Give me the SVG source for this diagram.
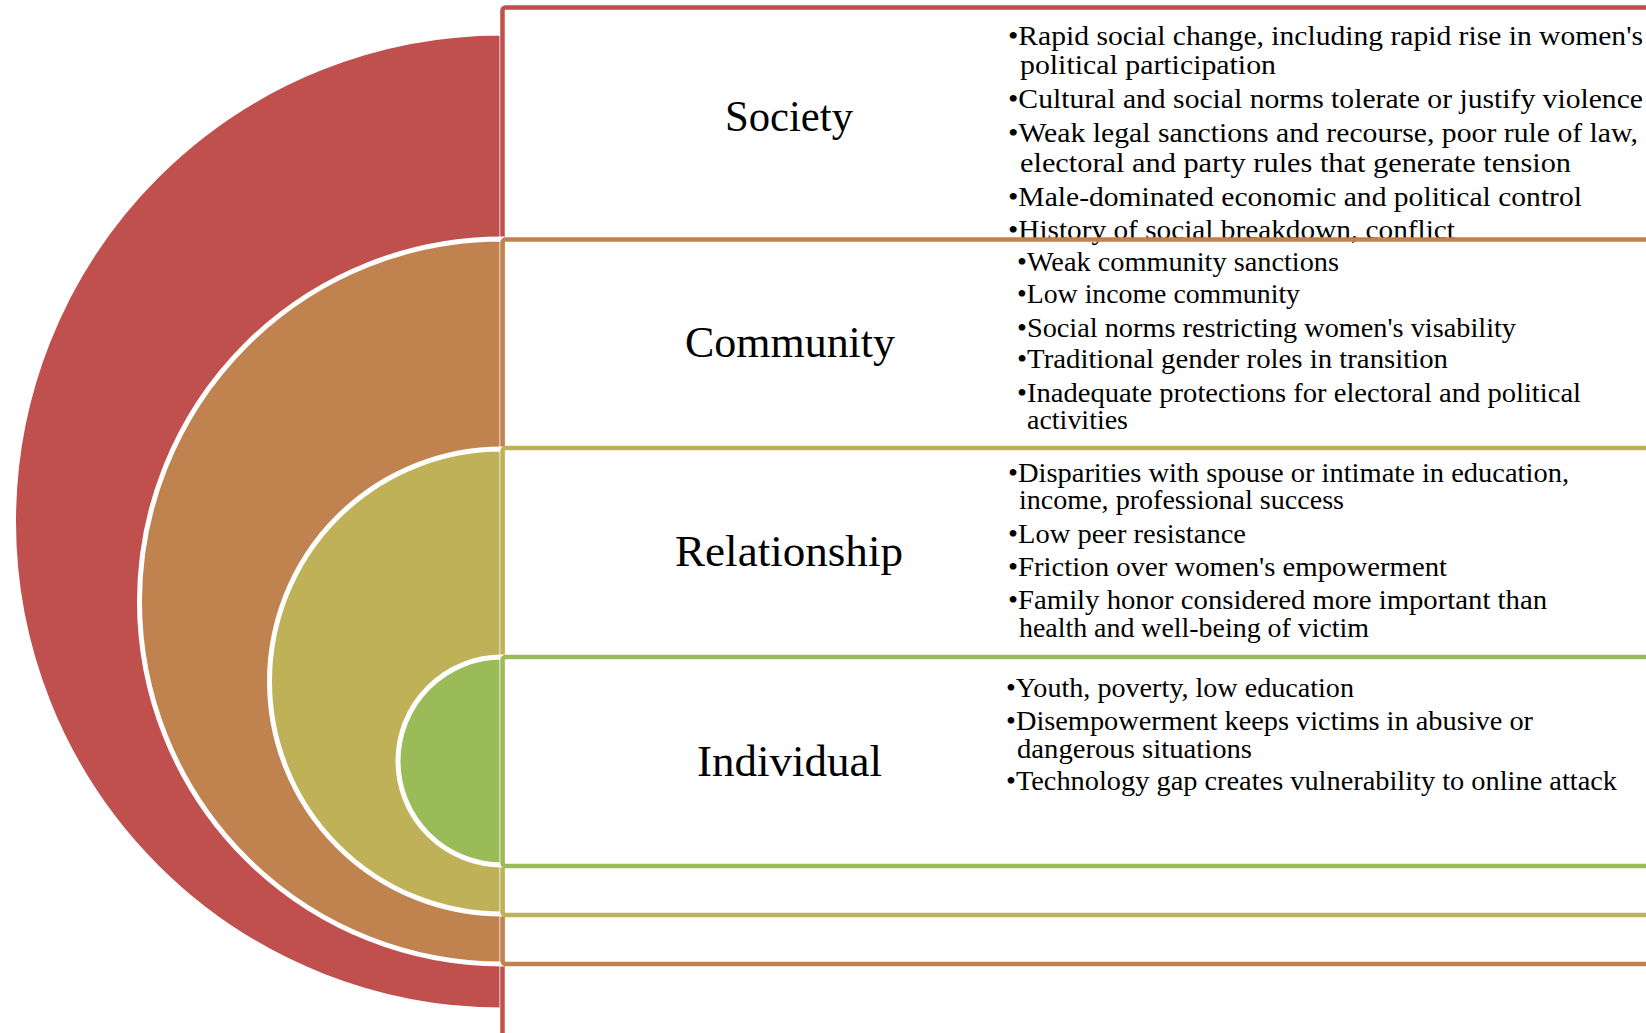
<svg xmlns="http://www.w3.org/2000/svg" width="1646" height="1033" viewBox="0 0 1646 1033">
  <style>
    .disc { stroke: #ffffff; stroke-width: 5; }
    .box { fill: none; stroke-width: 4.5; }
    .label { font-family: "Liberation Serif", "Times New Roman", serif; font-size: 44px; fill: #000000; text-anchor: middle; }
    .item { font-family: "Liberation Serif", "Times New Roman", serif; font-size: 27px; fill: #000000; }
    .red { fill: #C0504D; }
    .brown { fill: #C0834F; }
    .olive { fill: #BFB158; }
    .green { fill: #9BBB59; }
    .red-line { stroke: #C0504D; }
    .brown-line { stroke: #C0834F; }
    .olive-line { stroke: #BFB158; }
    .green-line { stroke: #9BBB59; }
  </style>

  <!-- Outer level: society -->
  <g id="society">
    <path class="disc red" stroke="none" d="M502,33 A488.5,488.5 0 0 0 502,1010 Z"/>
    <rect class="box red-line" x="502.5" y="7.5" width="1300" height="1200" rx="3"/>
    <text class="label" x="789" y="131" textLength="128" lengthAdjust="spacingAndGlyphs">Society</text>
    <text class="item" x="1008" y="45" textLength="635" lengthAdjust="spacingAndGlyphs">•Rapid social change, including rapid rise in women's</text>
    <text class="item" x="1020" y="74" textLength="256" lengthAdjust="spacingAndGlyphs">political participation</text>
    <text class="item" x="1008" y="108" textLength="635" lengthAdjust="spacingAndGlyphs">•Cultural and social norms tolerate or justify violence</text>
    <text class="item" x="1008" y="142" textLength="630" lengthAdjust="spacingAndGlyphs">•Weak legal sanctions and recourse, poor rule of law,</text>
    <text class="item" x="1020" y="172" textLength="551" lengthAdjust="spacingAndGlyphs">electoral and party rules that generate tension</text>
    <text class="item" x="1008" y="206" textLength="574" lengthAdjust="spacingAndGlyphs">•Male-dominated economic and political control</text>
    <text class="item" x="1008" y="239" textLength="447" lengthAdjust="spacingAndGlyphs">•History of social breakdown, conflict</text>
  </g>

  <!-- Second level: community -->
  <g id="community">
    <path class="disc brown" d="M502,239 A362.5,362.5 0 0 0 502,964 Z"/>
    <rect class="box brown-line" x="502.5" y="239.5" width="1300" height="724.5" rx="3"/>
    <text class="label" x="790" y="357" textLength="210" lengthAdjust="spacingAndGlyphs">Community</text>
    <text class="item" x="1017" y="271" textLength="322" lengthAdjust="spacingAndGlyphs">•Weak community sanctions</text>
    <text class="item" x="1017" y="303" textLength="283" lengthAdjust="spacingAndGlyphs">•Low income community</text>
    <text class="item" x="1017" y="337" textLength="499" lengthAdjust="spacingAndGlyphs">•Social norms restricting women's visability</text>
    <text class="item" x="1017" y="368" textLength="431" lengthAdjust="spacingAndGlyphs">•Traditional gender roles in transition</text>
    <text class="item" x="1017" y="402" textLength="564" lengthAdjust="spacingAndGlyphs">•Inadequate protections for electoral and political</text>
    <text class="item" x="1027" y="429" textLength="101" lengthAdjust="spacingAndGlyphs">activities</text>
  </g>

  <!-- Third level: relationship -->
  <g id="relationship">
    <path class="disc olive" d="M502,449 A232.5,232.5 0 0 0 502,914 Z"/>
    <rect class="box olive-line" x="502.5" y="448" width="1300" height="467" rx="3"/>
    <text class="label" x="789" y="566" textLength="228" lengthAdjust="spacingAndGlyphs">Relationship</text>
    <text class="item" x="1008" y="482" textLength="561" lengthAdjust="spacingAndGlyphs">•Disparities with spouse or intimate in education,</text>
    <text class="item" x="1019" y="509" textLength="325" lengthAdjust="spacingAndGlyphs">income, professional success</text>
    <text class="item" x="1008" y="543" textLength="238" lengthAdjust="spacingAndGlyphs">•Low peer resistance</text>
    <text class="item" x="1008" y="576" textLength="439" lengthAdjust="spacingAndGlyphs">•Friction over women's empowerment</text>
    <text class="item" x="1008" y="609" textLength="539" lengthAdjust="spacingAndGlyphs">•Family honor considered more important than</text>
    <text class="item" x="1019" y="637" textLength="350" lengthAdjust="spacingAndGlyphs">health and well-being of victim</text>
  </g>

  <!-- Inner level: individual -->
  <g id="individual">
    <path class="disc green" d="M502,657 A104,104 0 0 0 502,865 Z"/>
    <rect class="box green-line" x="502.5" y="657" width="1300" height="209" rx="3"/>
    <text class="label" x="789.5" y="776" textLength="185" lengthAdjust="spacingAndGlyphs">Individual</text>
    <text class="item" x="1006" y="697" textLength="348" lengthAdjust="spacingAndGlyphs">•Youth, poverty, low education</text>
    <text class="item" x="1006" y="730" textLength="527" lengthAdjust="spacingAndGlyphs">•Disempowerment keeps victims in abusive or</text>
    <text class="item" x="1017" y="758" textLength="235" lengthAdjust="spacingAndGlyphs">dangerous situations</text>
    <text class="item" x="1006" y="790" textLength="611" lengthAdjust="spacingAndGlyphs">•Technology gap creates vulnerability to online attack</text>
  </g>
</svg>
